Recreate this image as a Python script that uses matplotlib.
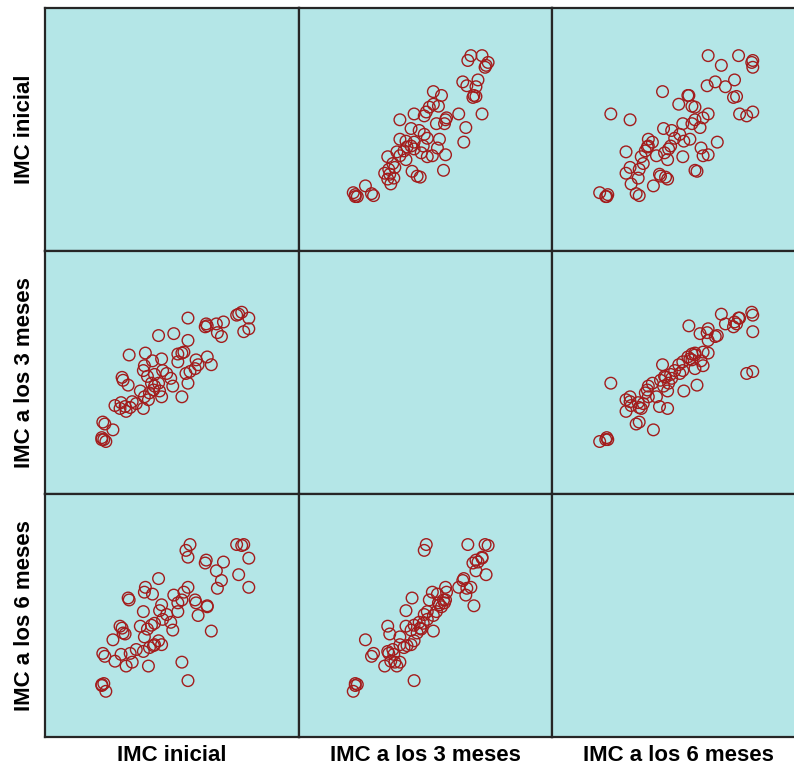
import matplotlib.pyplot as plt
import numpy as np

plt.rcParams['font.family'] = ['Liberation Sans', 'DejaVu Sans']

names = ["IMC inicial", "IMC a los 3 meses", "IMC a los 6 meses"]

imc_inicial = [39.4, 38.9, 39.1, 40.1, 34.1, 37.6, 35.9, 36.9, 36.0, 35.8,
               40.1, 39.6, 37.0, 32.7, 31.2, 37.4, 34.1, 33.7, 29.9, 33.5,
               33.1, 28.3, 36.0, 31.5, 34.9, 30.6, 33.1, 36.4, 35.1, 29.8,
               34.8, 29.7, 31.6, 34.3, 33.9, 32.0, 30.8, 30.1, 27.6, 32.4,
               27.7, 34.1, 30.5, 31.2, 28.2, 32.6, 30.8, 30.7, 31.3, 29.4,
               30.3, 33.5, 31.5, 29.8, 30.2, 28.6, 27.5, 29.0, 26.9, 27.9,
               28.4, 29.7, 27.4, 28.0, 25.7, 25.9, 26.7, 25.6, 25.6, 25.8,
               26.0]
imc_3m = [38.7, 38.4, 38.5, 38.1, 38.1, 37.7, 37.5, 37.5, 37.3, 37.2,
          37.0, 36.7, 36.6, 36.5, 36.3, 36.2, 35.8, 34.6, 34.5, 34.5,
          34.4, 34.3, 34.1, 33.9, 33.8, 33.7, 33.6, 33.3, 33.3, 33.2,
          32.9, 32.7, 32.7, 32.6, 32.4, 32.4, 32.3, 32.1, 32.0, 31.9,
          31.7, 31.4, 31.4, 31.4, 31.2, 31.1, 31.1, 30.7, 30.6, 30.6,
          30.4, 30.0, 30.0, 30.0, 29.7, 29.5, 29.4, 29.3, 29.1, 29.0,
          28.9, 28.8, 28.8, 28.5, 27.4, 27.2, 26.6, 25.8, 25.6, 25.6,
          25.4]
imc_6m = [39.7, 39.8, 36.7, 38.4, 38.5, 38.0, 38.2, 37.1, 33.5, 37.9,
          35.4, 39.8, 35.3, 34.6, 36.3, 36.1, 35.4, 34.9, 35.4, 34.1,
          33.8, 34.1, 33.4, 33.6, 33.8, 34.7, 32.9, 30.9, 32.5, 34.9,
          34.1, 32.9, 32.1, 39.8, 39.2, 32.6, 31.7, 31.1, 31.2, 31.8,
          30.7, 25.8, 31.5, 29.9, 34.3, 31.0, 29.5, 29.4, 33.0, 31.4,
          29.2, 27.7, 29.5, 30.3, 27.3, 27.7, 28.5, 29.0, 27.8, 30.6,
          28.6, 28.8, 31.4, 27.3, 28.6, 28.3, 30.0, 25.4, 25.3, 25.5,
          24.7]

data = [imc_inicial, imc_3m, imc_6m]
lims = (20, 45)

W, H = 794, 773
fig = plt.figure(figsize=(W / 100, H / 100), dpi=100)

left, top = 45, 8
col_w, row_h = 253.5, 243

for r in range(3):
    for c in range(3):
        x0 = left + c * col_w
        y0 = top + r * row_h
        ax = fig.add_axes([x0 / W, 1 - (y0 + row_h) / H, col_w / W, row_h / H])
        ax.set_facecolor('#b4e6e7')
        ax.set_xlim(*lims)
        ax.set_ylim(*lims)
        ax.set_xticks([])
        ax.set_yticks([])
        for s in ax.spines.values():
            s.set_color('#262626')
            s.set_linewidth(1.6)
        if r != c:
            ax.scatter(data[c], data[r], s=70, facecolors='none',
                       edgecolors='#a31c1c', linewidths=1.0)
        if r == 2:
            ax.set_xlabel(names[c], fontsize=16, fontweight='bold', labelpad=6)
        if c == 0:
            ax.set_ylabel(names[r], fontsize=16, fontweight='bold', labelpad=7)

fig.savefig('out.png', dpi=100)
